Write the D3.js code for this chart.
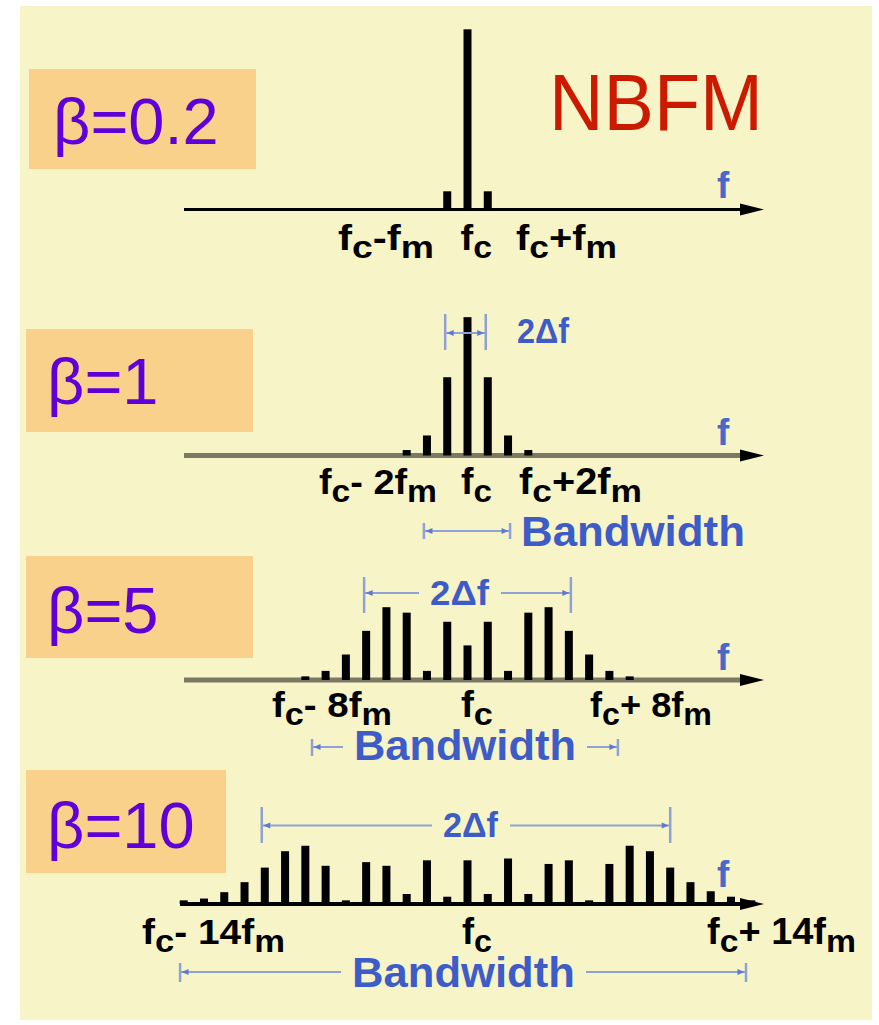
<!DOCTYPE html>
<html><head><meta charset="utf-8">
<script src="https://cdn.jsdelivr.net/npm/d3@7"></script>
<style>html,body{margin:0;padding:0;background:#fff;} svg{display:block}</style>
</head><body><svg id="c" width="879" height="1025"></svg>
<script>
// ---------------- data ----------------
const title = "NBFM";
const betaLabels = ["β=0.2", "β=1", "β=5", "β=10"];
// sideband orders (multiples of fm from fc) and relative line amplitudes
const orders02 = [-1, 0, 1];
const amps02 = [0.10, 0.99, 0.10];
const orders1 = [-3, -2, -1, 0, 1, 2, 3];
const amps1 = [0.03, 0.11, 0.43, 0.76, 0.43, 0.11, 0.03];
const orders5 = [-8, -7, -6, -5, -4, -3, -2, -1, 0, 1, 2, 3, 4, 5, 6, 7, 8];
const amps5 = [0.02, 0.05, 0.14, 0.27, 0.40, 0.37, 0.05, 0.32, 0.19, 0.32, 0.05, 0.37, 0.40, 0.27, 0.14, 0.05, 0.02];
const orders10 = [-14, -13, -12, -11, -10, -9, -8, -7, -6, -5, -4, -3, -2, -1, 0, 1, 2, 3, 4, 5, 6, 7, 8, 9, 10, 11, 12, 13, 14];
const amps10 = [0.02, 0.03, 0.065, 0.12, 0.20, 0.29, 0.32, 0.21, 0.02, 0.23, 0.21, 0.055, 0.24, 0.04, 0.24, 0.055, 0.25, 0.055, 0.22, 0.24, 0.02, 0.22, 0.32, 0.29, 0.20, 0.12, 0.07, 0.04, 0.02];
// frequency tick labels (parts; sub = subscript)
const freqLabels02 = [[["f"], ["c", 1], ["-f"], ["m", 1]], [["f"], ["c", 1]], [["f"], ["c", 1], ["+f"], ["m", 1]]];
const freqLabels1 = [[["f"], ["c", 1], ["- 2f"], ["m", 1]], [["f"], ["c", 1]], [["f"], ["c", 1], ["+2f"], ["m", 1]]];
const freqLabels5 = [[["f"], ["c", 1], ["- 8f"], ["m", 1]], [["f"], ["c", 1]], [["f"], ["c", 1], ["+ 8f"], ["m", 1]]];
const freqLabels10 = [[["f"], ["c", 1], ["- 14f"], ["m", 1]], [["f"], ["c", 1]], [["f"], ["c", 1], ["+ 14f"], ["m", 1]]];
// annotation spans in units of fm
const deviation1 = [-1.1, 0.9];
const deviation5 = [-5.1, 5.1];
const deviation10 = [-10.15, 10];
const bandwidth1 = [-2.15, 2.1];
const bandwidth5 = [-7.67, 7.42];
const bandwidth10 = [-14.18, 13.74];
const devText = "2Δf";
const bwText = "Bandwidth";
const axisText = "f";

// ---------------- layout ----------------
const svg = d3.select("#c");
const C = {bg: "#F7F4C7", box: "#F9D18A", beta: "#6000D9", red: "#CC1A00", blue: "#3E5CC8", lblue: "#8FA2D8", olive: "#7B7964"};
const x = d3.scaleLinear().domain([-14, 14]).range([467.5 - 14 * 20.27, 467.5 + 14 * 20.27]);
const FONT = "'Liberation Sans', Arial, sans-serif";

svg.append("rect").attr("x", 20).attr("y", 6).attr("width", 852).attr("height", 1014).attr("fill", C.bg);

const panels = [
  {orders: orders02, amps: amps02, label: betaLabels[0], base: 209.5, ax0: 184, aw: 3, ac: "#000",
   box: [29, 69, 227, 100], btx: 53, bty: 144, flab: freqLabels02,
   flx: [[338, 434], [460.5, 492], [516, 617]], fly: 250, fy: 198},
  {orders: orders1, amps: amps1, label: betaLabels[1], base: 455.5, ax0: 184, aw: 5, ac: C.olive,
   box: [26, 329, 227, 103], btx: 47, bty: 404, flab: freqLabels1,
   flx: [[319, 437], [461, 492], [519, 642]], fly: 494, fy: 445,
   dev: deviation1, devY: 333, devT: [314, 350], devTxt: [517, 570, 343], devGap: false,
   bw: bandwidth1, bwY: 531, bwT: [523, 539], bwTxt: [521, 745, 546], bwGap: false},
  {orders: orders5, amps: amps5, label: betaLabels[2], base: 680, ax0: 184, aw: 5, ac: C.olive,
   box: [26, 556, 227, 102], btx: 47, bty: 633, flab: freqLabels5,
   flx: [[272, 392], [461, 493], [590, 712]], fly: 717, fy: 670,
   dev: deviation5, devY: 593, devT: [577, 613], devTxt: [430, 490, 605], devGap: true,
   bw: bandwidth5, bwY: 747, bwT: [739, 756], bwTxt: [354, 576, 760], bwGap: true},
  {orders: orders10, amps: amps10, label: betaLabels[3], base: 904, ax0: 180, aw: 4, ac: "#000",
   box: [26, 770, 200, 103], btx: 47, bty: 848, flab: freqLabels10,
   flx: [[142, 285], [462, 492], [707, 856]], fly: 944, fy: 887,
   dev: deviation10, devY: 825.5, devT: [807, 843], devTxt: [443, 499, 837], devGap: true,
   bw: bandwidth10, bwY: 972, bwT: [963, 982], bwTxt: [352, 575, 987], bwGap: true}
];

function fitText(g, x0, x1) {
  const bb = g.node().getBBox();
  return (x1 - x0) / bb.width;
}

function arrowHead(g, xt, y, dir, len, hh, col) {
  g.append("path").attr("d", `M${xt},${y} L${xt - dir * len},${y - hh} L${xt - dir * len},${y + hh} Z`).attr("fill", col);
}

function bracket(g, span, yL, tk, txt, gap) {
  const xa = x(span[0]), xb = x(span[1]);
  const lc = C.lblue;
  g.append("line").attr("x1", xa).attr("x2", xa).attr("y1", tk[0]).attr("y2", tk[1]).attr("stroke", lc).attr("stroke-width", 2.5);
  g.append("line").attr("x1", xb).attr("x2", xb).attr("y1", tk[0]).attr("y2", tk[1]).attr("stroke", lc).attr("stroke-width", 2.5);
  if (gap) {
    g.append("line").attr("x1", xa).attr("x2", txt[0] - 11).attr("y1", yL).attr("y2", yL).attr("stroke", lc).attr("stroke-width", 2);
    g.append("line").attr("x1", txt[1] + 11).attr("x2", xb).attr("y1", yL).attr("y2", yL).attr("stroke", lc).attr("stroke-width", 2);
  } else {
    g.append("line").attr("x1", xa).attr("x2", xb).attr("y1", yL).attr("y2", yL).attr("stroke", lc).attr("stroke-width", 2);
  }
  arrowHead(g, xa + 1.5, yL, -1, 7, 3, "#5F7AD0");
  arrowHead(g, xb - 1.5, yL, 1, 7, 3, "#5F7AD0");
}

function textFit(parent, str, x0, x1, baseline, fs, weight, fill) {
  const g = parent.append("g");
  g.append("text").attr("x", 0).attr("y", 0).attr("font-family", FONT)
    .attr("font-size", fs).attr("font-weight", weight).attr("fill", fill).text(str);
  const s = fitText(g, x0, x1);
  g.attr("transform", `translate(${x0},${baseline}) scale(${s},1)`);
  return g;
}

panels.forEach((p) => {
  const g = svg.append("g");
  const y = d3.scaleLinear().domain([0, 1]).range([p.base, p.base - 182]);
  // beta box
  g.append("rect").attr("x", p.box[0]).attr("y", p.box[1]).attr("width", p.box[2]).attr("height", p.box[3]).attr("fill", C.box);
  g.append("text").attr("x", p.btx).attr("y", p.bty).attr("font-family", FONT).attr("font-size", 65)
    .attr("fill", C.beta).text(p.label);
  // axis
  g.append("line").attr("x1", p.ax0).attr("x2", 745).attr("y1", p.base).attr("y2", p.base)
    .attr("stroke", p.ac).attr("stroke-width", p.aw);
  arrowHead(g, 764, p.base, 1, 24, 6, "#000");
  // bars
  g.selectAll("rect.bar").data(p.orders).enter().append("rect").attr("class", "bar")
    .attr("x", (d) => x(d) - 4).attr("width", 8)
    .attr("y", (d, i) => y(p.amps[i]))
    .attr("height", (d, i) => p.base - y(p.amps[i]))
    .attr("fill", "#000");
  // axis f label
  g.append("text").attr("x", 717).attr("y", p.fy).attr("font-family", FONT).attr("font-size", 37)
    .attr("font-weight", "bold").attr("fill", "#4A68C8").text(axisText);
  // frequency labels
  p.flab.forEach((parts, k) => {
    const lg = g.append("g");
    const t = lg.append("text").attr("x", 0).attr("y", 0).attr("font-family", FONT)
      .attr("font-weight", "bold").attr("fill", "#000").attr("font-size", 36);
    let shifted = false;
    parts.forEach((pt) => {
      const ts = t.append("tspan").text(pt[0]);
      if (pt[1]) { ts.attr("dy", 8).attr("font-size", 32); shifted = true; }
      else if (shifted) { ts.attr("dy", -8); shifted = false; }
    });
    const s = fitText(lg, p.flx[k][0], p.flx[k][1]);
    lg.attr("transform", `translate(${p.flx[k][0]},${p.fly}) scale(${s},1)`);
  });
  // annotations
  if (p.dev) {
    bracket(g, p.dev, p.devY, p.devT, p.devTxt, p.devGap);
    textFit(g, devText, p.devTxt[0], p.devTxt[1], p.devTxt[2], 36, "bold", C.blue);
  }
  if (p.bw) {
    bracket(g, p.bw, p.bwY, p.bwT, p.bwTxt, p.bwGap);
    textFit(g, bwText, p.bwTxt[0], p.bwTxt[1], p.bwTxt[2], 42, "bold", C.blue);
  }
});

// title
textFit(svg, title, 549, 763, 130, 80, "normal", C.red);
</script></body></html>
